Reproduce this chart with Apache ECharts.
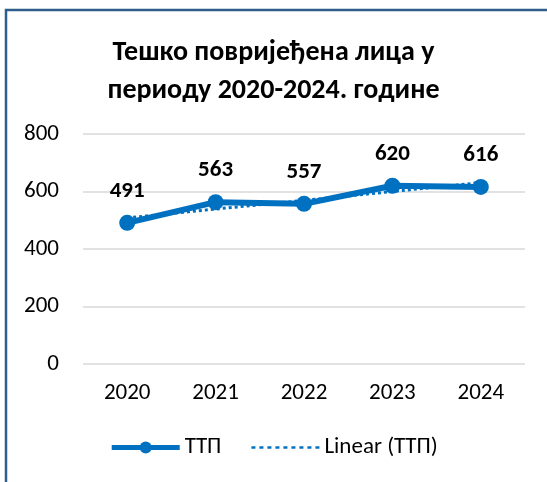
<!DOCTYPE html>
<html><head><meta charset="utf-8">
<script src="https://cdn.jsdelivr.net/npm/echarts@6/dist/echarts.min.js"></script>
<style>html,body{margin:0;padding:0;background:#fff}#c{width:547px;height:482px}</style>
</head><body><div id="c"></div>
<script>
var categories = ['2020','2021','2022','2023','2024'];
var values = [491, 563, 557, 620, 616];
var trendValues = [508, 539, 569, 600, 631];
var yTicks = [0, 200, 400, 600, 800];
var titleText = 'Тешко повријеђена лица у\nпериоду 2020-2024. године';
var seriesName = 'ТТП';
var trendName = 'Linear (ТТП)';

var font = 'Carlito, "Open Sans", "Noto Sans", sans-serif';
var chart = echarts.init(document.getElementById('c'));
chart.setOption({
  animation: false,
  backgroundColor: '#fff',
  graphic: [{type:'polyline', shape:{points:[[6,482],[6,10],[547,10]]}, style:{stroke:'#2F5D8C', lineWidth:2.5, fill:null}, z:100}],
  title: {text: titleText, left: 'center', top: 29, textStyle:{fontFamily:font, fontWeight:'bold', fontSize:28, color:'#000', lineHeight:38}},
  grid: {left: 83, right: 22, top: 134, bottom: 118},
  xAxis: {type:'category', data: categories, boundaryGap:true,
    axisLine:{show:false}, axisTick:{show:false},
    axisLabel:{fontFamily:font, fontSize:23, color:'#000', margin:18}},
  yAxis: {type:'value', min:0, max:800, interval:200,
    axisLine:{show:false}, axisTick:{show:false},
    splitLine:{lineStyle:{color:'#D9D9D9', width:1.5}},
    axisLabel:{fontFamily:font, fontSize:23, color:'#000', margin:24,
      formatter:function(v){return yTicks.indexOf(v)>=0? String(v):'';}}},
  legend: {bottom: 18, left:'center', itemWidth:68, itemHeight:15, itemGap:30,
    textStyle:{fontFamily:font, fontSize:23, color:'#000'},
    data:[{name:seriesName, lineStyle:{width:5}}, {name:trendName, icon:'path://M0,6h4v2.5h-4zM8,6h4v2.5h-4zM16,6h4v2.5h-4zM24,6h4v2.5h-4zM32,6h4v2.5h-4zM40,6h4v2.5h-4zM48,6h4v2.5h-4zM56,6h4v2.5h-4zM64,6h4v2.5h-4z'}]},
  series: [
    {name: trendName, type:'line', data: trendValues, symbol:'none', z:1,
      itemStyle:{color:'#0070C0'},
      lineStyle:{color:'#0070C0', width:3, type:'dotted'}},
    {name: seriesName, type:'line', data: values, symbol:'circle', symbolSize:16, z:2,
      itemStyle:{color:'#0070C0'},
      lineStyle:{color:'#0070C0', width:6},
      label:{show:true, position:'top', distance:12, fontFamily:font, fontWeight:'bold', fontSize:23, color:'#000'}}
  ]
});
</script></body></html>
